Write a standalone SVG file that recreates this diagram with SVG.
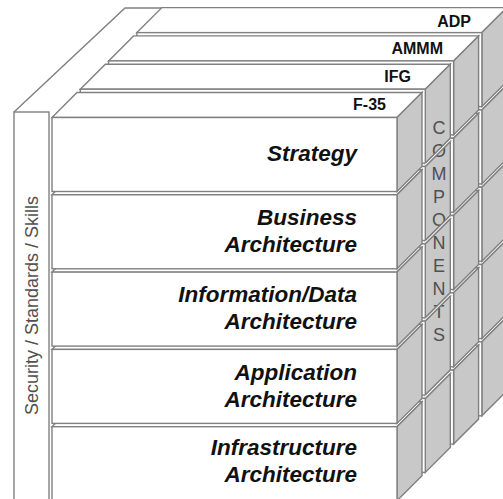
<svg xmlns="http://www.w3.org/2000/svg" width="503" height="499" viewBox="0 0 503 499">
<style>
.f{fill:#fff;stroke:#808080;stroke-width:1.4}
.s{fill:#c8c8c8;stroke:#808080;stroke-width:1.4}
.ln{fill:none;stroke:#808080;stroke-width:1.4}
.lab{font-family:"Liberation Sans",Arial,sans-serif;font-weight:bold;font-style:italic;font-size:22.5px;fill:#111;text-anchor:end}
.sl{font-family:"Liberation Sans",Arial,sans-serif;font-weight:bold;font-size:16px;fill:#111;text-anchor:end}
.g{font-family:"Liberation Sans",Arial,sans-serif;font-size:18px;fill:#505050;text-anchor:middle}
</style>
<defs>
<g id="box">
<polygon class="f" points="0,0 25,-25 370,-25 345,0"/>
<polygon class="s" points="345,0 370,-25 370,49 345,74"/>
<rect class="f" x="0" y="0" width="345" height="74"/>
</g>
</defs>
<rect width="503" height="499" fill="#fff"/>
<g id="panel">
<polygon points="14,112 125,8 163,8 52,118 49,112" fill="#fff"/>
<rect class="f" x="14" y="112" width="35" height="400"/>
<path class="ln" d="M14,112 L125,8 H163"/>
<text class="g" font-size="19" transform="translate(37.7,305.5) rotate(-90)">Security / Standards / Skills</text>
</g>
<g id="slab-adp">
<use href="#box" x="136.9" y="341.8"/>
<use href="#box" x="136.9" y="264.5"/>
<use href="#box" x="136.9" y="187.2"/>
<use href="#box" x="136.9" y="109.9"/>
<use href="#box" x="136.9" y="32.6"/>
<text class="sl" x="471" y="27">ADP</text>
</g>
<g id="slab-ammm">
<use href="#box" x="108.6" y="370.1"/>
<use href="#box" x="108.6" y="292.8"/>
<use href="#box" x="108.6" y="215.5"/>
<use href="#box" x="108.6" y="138.2"/>
<use href="#box" x="108.6" y="60.9"/>
<text class="sl" x="443" y="53.5">AMMM</text>
</g>
<g id="slab-ifg">
<use href="#box" x="80.3" y="398.4"/>
<use href="#box" x="80.3" y="321.1"/>
<use href="#box" x="80.3" y="243.8"/>
<use href="#box" x="80.3" y="166.5"/>
<use href="#box" x="80.3" y="89.2"/>
<text class="sl" x="411" y="81.5">IFG</text>
</g>
<g id="components">
<text class="g" x="439" y="133.5">C</text>
<text class="g" x="439" y="156.6">O</text>
<text class="g" x="439" y="179.7">M</text>
<text class="g" x="439" y="202.8">P</text>
<text class="g" x="439" y="225.9">O</text>
<text class="g" x="439" y="249">N</text>
<text class="g" x="439" y="272.1">E</text>
<text class="g" x="439" y="295.2">N</text>
<text class="g" x="439" y="318.3">T</text>
<text class="g" x="439" y="341.4">S</text>
<g id="ifg-gaps">
<polygon points="425.3,163.2 450.3,138.2 450.3,141.5 425.3,166.5" fill="#fff"/>
<polygon points="425.3,240.5 450.3,215.5 450.3,218.8 425.3,243.8" fill="#fff"/>
<polygon points="425.3,317.8 450.3,292.8 450.3,296.1 425.3,321.1" fill="#fff"/>
<polygon points="425.3,395.1 450.3,370.1 450.3,373.4 425.3,398.4" fill="#fff"/>
<path class="ln" d="M425.3,163.2 L450.3,138.2 M425.3,166.5 L450.3,141.5 M425.3,240.5 L450.3,215.5 M425.3,243.8 L450.3,218.8 M425.3,317.8 L450.3,292.8 M425.3,321.1 L450.3,296.1 M425.3,395.1 L450.3,370.1 M425.3,398.4 L450.3,373.4"/>
</g>
</g>
<g id="slab-f35">
<g id="infrastructure">
<use href="#box" x="52" y="426.7"/>
<text class="lab" x="357" y="455">Infrastructure</text>
<text class="lab" x="357" y="482">Architecture</text>
</g>
<g id="application">
<use href="#box" x="52" y="349.4"/>
<text class="lab" x="357" y="380">Application</text>
<text class="lab" x="357" y="407">Architecture</text>
</g>
<g id="information">
<use href="#box" x="52" y="272.1"/>
<text class="lab" x="357" y="301.7">Information/Data</text>
<text class="lab" x="357" y="329">Architecture</text>
</g>
<g id="business">
<use href="#box" x="52" y="194.8"/>
<text class="lab" x="357" y="225">Business</text>
<text class="lab" x="357" y="252">Architecture</text>
</g>
<g id="strategy">
<use href="#box" x="52" y="117.5"/>
<text class="lab" x="357" y="161">Strategy</text>
</g>
<text class="sl" x="386" y="110">F-35</text>
</g>
</svg>
